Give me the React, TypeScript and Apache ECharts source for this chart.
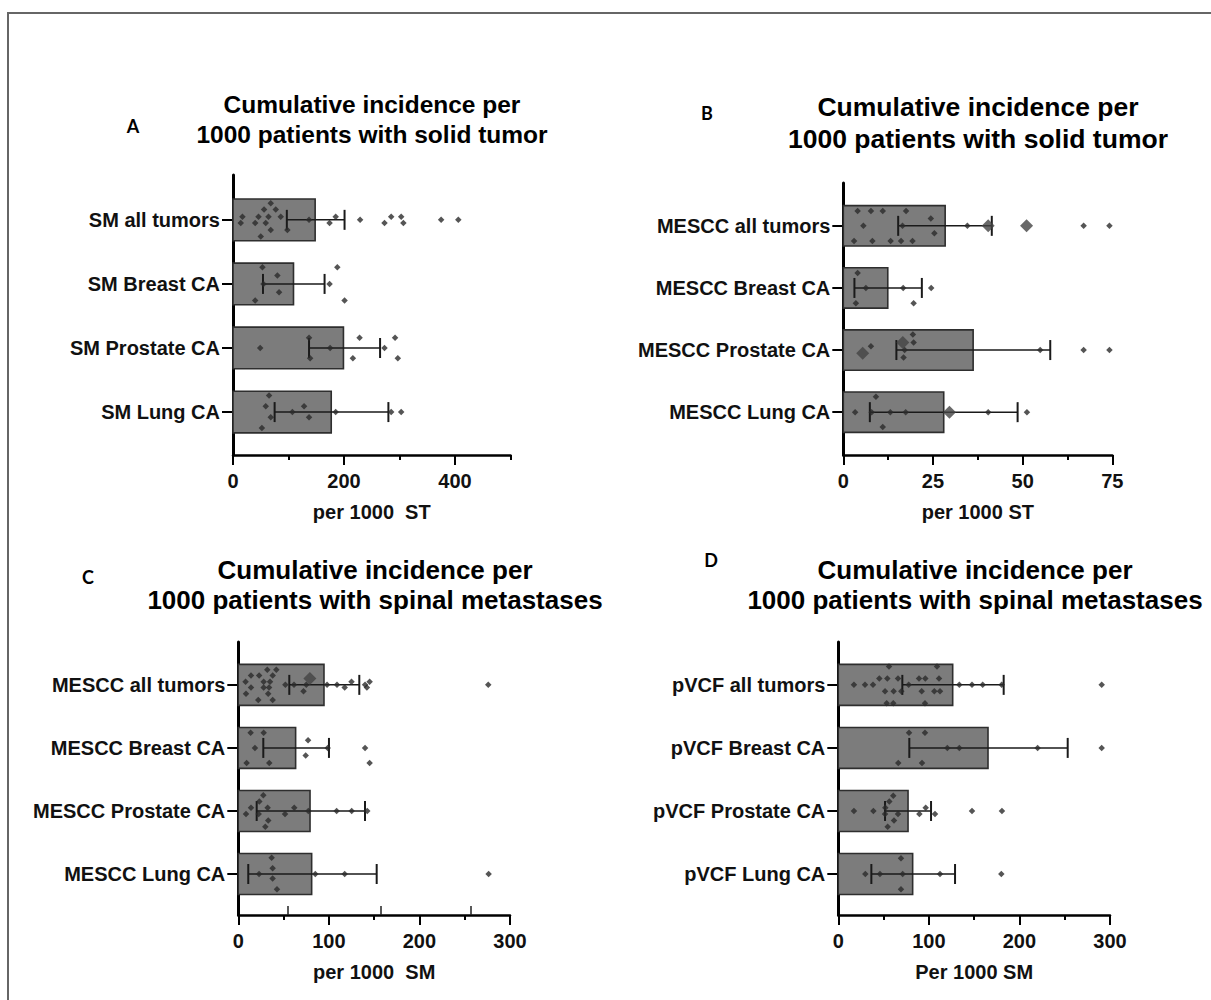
import React, { useEffect, useRef } from 'react';
import * as echarts from 'echarts';

const FONT = '"Liberation Sans", Arial, Helvetica, sans-serif';
type Pt = [number, number]; // [value, vertical jitter in row units]

// ---------- Panel A ----------
const catsA = ['SM all tumors', 'SM Breast CA', 'SM Prostate CA', 'SM Lung CA'];
const meanA = [148, 109, 199, 177];
const lowA = [97, 54, 137, 75];
const highA = [201, 165, 265, 280];
const dotsA0: Pt[] = [[17, -0.05], [14, 0.05], [50, 0.26], [46, -0.05], [40, 0.05], [56, -0.16], [68, -0.26], [64, -0.05], [59, 0.05], [77, -0.16], [68, 0.16], [86, -0.05], [98, 0.16], [137, 0], [185, -0.05], [174, 0.05], [229, 0], [273, 0.05], [285, -0.05], [303, -0.05], [307, 0.05], [375, 0], [406, 0]];
const dotsA1: Pt[] = [[53, -0.26], [80, -0.13], [55, 0], [83, 0.13], [40, 0.26], [174, 0], [188, -0.26], [201, 0.26]];
const dotsA2: Pt[] = [[49, 0], [137, -0.16], [139, 0.16], [175, 0], [228, -0.16], [216, 0.16], [273, 0], [292, -0.16], [297, 0.16]];
const dotsA3: Pt[] = [[65, -0.26], [59, -0.09], [68, 0.08], [52, 0.25], [107, 0], [128, -0.09], [137, 0.08], [185, 0], [285, 0], [303, 0]];
const ticksA = [0, 200, 400];
const minorA = [100, 300, 500];

// ---------- Panel B ----------
const catsB = ['MESCC all tumors', 'MESCC Breast CA', 'MESCC Prostate CA', 'MESCC Lung CA'];
const meanB = [28.4, 12.4, 36.2, 28.0];
const lowB = [15.3, 3.1, 14.8, 7.4];
const highB = [41.4, 21.9, 57.7, 48.6];
const dotsB0: Pt[] = [[4, -0.24], [7.7, -0.24], [11, -0.24], [17.5, -0.24], [5.6, 0], [3, 0.245], [8.1, 0.245], [13.2, 0.245], [16.1, 0.245], [19.3, 0.245], [24.4, -0.12], [25.4, 0.12], [16.5, 0], [34.6, 0], [67, 0], [74.2, 0]];
const bigB0: Pt[] = [[40.4, 0], [51.1, 0]];
const dotsB1: Pt[] = [[4, -0.24], [6.3, 0], [16.7, 0], [24.5, 0], [3.5, 0.245], [19.6, 0.245]];
const dotsB2: Pt[] = [[7.7, -0.06], [19.4, -0.25], [19.6, -0.12], [17.1, 0], [16.8, 0.12], [54.9, 0], [67, 0], [74.2, 0]];
const bigB2: Pt[] = [[5.4, 0.05], [16.6, -0.12]];
const dotsB3: Pt[] = [[3.3, 0], [9.1, -0.25], [7.9, 0], [13.1, 0], [17.4, 0], [11, 0.24], [40.4, 0], [51.2, 0]];
const bigB3: Pt[] = [[29.6, 0]];
const ticksB = [0, 25, 50, 75];
const minorB = [12.5, 37.5, 62.5];

// ---------- Panel C ----------
const catsC = ['MESCC all tumors', 'MESCC Breast CA', 'MESCC Prostate CA', 'MESCC Lung CA'];
const meanC = [94.6, 63.3, 79.2, 81.0];
const lowC = [56.3, 27.6, 20.3, 11.0];
const highC = [133.6, 100.1, 139.9, 152.8];
const dotsC0: Pt[] = [[32, -0.24], [42, -0.24], [14, -0.15], [23, -0.15], [38, -0.15], [8, -0.05], [28, -0.05], [35, -0.05], [14, 0.04], [28, 0.04], [34, 0.04], [8.5, 0.14], [33, 0.14], [22, 0.24], [38, 0.24], [52, 0], [61.5, 0], [75, 0], [72, 0.1], [98, 0], [109, 0], [117.5, 0.04], [125, -0.05], [140, 0], [142, 0.04], [145, -0.05], [276, 0]];
const bigC0: Pt[] = [[79, -0.1]];
const dotsC1: Pt[] = [[13.6, -0.24], [28, -0.24], [18.4, 0], [9.2, 0.24], [34.2, 0.24], [77, -0.12], [74.4, 0.12], [98.7, 0], [140, 0], [145, 0.24]];
const dotsC2: Pt[] = [[27.6, -0.25], [23.2, -0.15], [14, -0.05], [8.5, 0.05], [32.4, -0.05], [22.5, 0.05], [33.1, 0.15], [29.8, 0.25], [51.6, 0.05], [61.8, -0.05], [77.3, 0], [108.6, 0], [125.2, 0], [142.4, 0]];
const dotsC3: Pt[] = [[36.8, -0.26], [37.9, -0.09], [37.9, 0.07], [42.7, 0.24], [22.9, 0], [85, 0], [117.5, 0], [276.4, 0]];
const ticksC = [0, 100, 200, 300];
const minorC = [50, 150, 250];
const upTicksC = [55, 157, 257];

// ---------- Panel D ----------
const catsD = ['pVCF all tumors', 'pVCF Breast CA', 'pVCF Prostate CA', 'pVCF Lung CA'];
const meanD = [126.3, 165.3, 77.0, 82.1];
const lowD = [70.7, 78.4, 51.6, 36.5];
const highD = [182.6, 253.3, 102.4, 128.9];
const dotsD0: Pt[] = [[56, -0.29], [109, -0.29], [45.3, -0.1], [54.1, -0.1], [65.9, -0.1], [89.1, -0.1], [96.1, -0.1], [111.2, -0.1], [17.3, 0], [29.5, 0], [38.3, 0], [77.7, 0], [51.6, 0.1], [61.1, 0.1], [69.6, 0.1], [92.1, 0.1], [106, 0.1], [112.3, 0.1], [53.4, 0.29], [60.7, 0.29], [95.7, 0.29], [133.6, 0], [147.6, 0], [159.4, 0], [180.4, 0], [290.8, 0]];
const dotsD1: Pt[] = [[78.1, -0.24], [95.7, -0.24], [120.4, 0], [133.6, 0], [66.2, 0.24], [92.4, 0.24], [220.1, 0], [290.8, 0]];
const dotsD2: Pt[] = [[17.3, 0], [38.7, 0], [60.7, -0.24], [56.3, -0.15], [51.9, -0.05], [51.6, 0.05], [65.9, 0.05], [61.5, 0.15], [54.5, 0.25], [96.5, -0.05], [89.5, 0.05], [106.8, 0.05], [147.6, 0], [180.7, 0]];
const dotsD3: Pt[] = [[29.8, 0], [46, 0], [71.1, 0], [69.2, -0.25], [69.2, 0.24], [112.3, 0], [180, 0]];
const ticksD = [0, 100, 200, 300];
const minorD = [50, 150, 250];

const BAR_H = 0.65;
const CAP = 10;

interface PanelDef {
  cats: string[]; mean: number[]; low: number[]; high: number[];
  dots: Pt[][]; big: Pt[][]; max: number; ticks: number[]; minor: number[]; up?: number[];
  name: string; grid: { left: number; top: number; width: number; height: number };
  ymin: number; ymax: number;
}

const panels: PanelDef[] = [
  { cats: catsA, mean: meanA, low: lowA, high: highA, dots: [dotsA0, dotsA1, dotsA2, dotsA3], big: [[], [], [], []], max: 500, ticks: ticksA, minor: minorA, name: 'per 1000  ST', grid: { left: 233, top: 175, width: 277.5, height: 280 }, ymin: -0.7, ymax: 3.67 },
  { cats: catsB, mean: meanB, low: lowB, high: highB, dots: [dotsB0, dotsB1, dotsB2, dotsB3], big: [bigB0, [], bigB2, bigB3], max: 75, ticks: ticksB, minor: minorB, name: 'per 1000 ST', grid: { left: 843.3, top: 183, width: 269, height: 272 }, ymin: -0.69, ymax: 3.69 },
  { cats: catsC, mean: meanC, low: lowC, high: highC, dots: [dotsC0, dotsC1, dotsC2, dotsC3], big: [bigC0, [], [], []], max: 300, ticks: ticksC, minor: minorC, up: upTicksC, name: 'per 1000  SM', grid: { left: 238.3, top: 642, width: 271.7, height: 273 }, ymin: -0.68, ymax: 3.65 },
  { cats: catsD, mean: meanD, low: lowD, high: highD, dots: [dotsD0, dotsD1, dotsD2, dotsD3], big: [[], [], [], []], max: 300, ticks: ticksD, minor: minorD, name: 'Per 1000 SM', grid: { left: 838.3, top: 642, width: 271.7, height: 273 }, ymin: -0.68, ymax: 3.65 },
];

function buildOption() {
  const grid: any[] = [];
  const xAxis: any[] = [];
  const yAxis: any[] = [];
  const series: any[] = [];
  const labelStyle = { fontSize: 20, fontWeight: 'bold', color: '#111', fontFamily: FONT };

  panels.forEach((p, g) => {
    grid.push({ ...p.grid, containLabel: false, outerBoundsMode: 'none' });
    const xMain = xAxis.length;
    xAxis.push({
      type: 'value', gridIndex: g, min: 0, max: p.max, position: 'bottom',
      axisLine: { show: true, onZero: false, lineStyle: { color: '#000', width: 2.5 } },
      axisTick: { show: true, customValues: p.ticks, length: 10, lineStyle: { color: '#000', width: 2 } },
      axisLabel: { show: true, customValues: p.ticks, margin: 16, ...labelStyle, formatter: (v: number) => (p.ticks.includes(v) ? String(v) : '') },
      splitLine: { show: false },
      name: p.name, nameLocation: 'middle', nameGap: 47, nameTextStyle: { ...labelStyle, fontSize: 20 },
    });
    xAxis.push({
      type: 'value', gridIndex: g, min: 0, max: p.max, position: 'bottom',
      axisLine: { show: false, onZero: false },
      axisTick: { show: true, customValues: p.minor, length: 5, lineStyle: { color: '#000', width: 2 } },
      axisLabel: { show: false }, splitLine: { show: false },
    });
    if (p.up) {
      xAxis.push({
        type: 'value', gridIndex: g, min: 0, max: p.max, position: 'bottom',
        axisLine: { show: false, onZero: false },
        axisTick: { show: true, inside: true, customValues: p.up, length: 9, lineStyle: { color: '#222', width: 1.5 } },
        axisLabel: { show: false }, splitLine: { show: false },
      });
    }
    const yi = yAxis.length;
    yAxis.push({
      type: 'value', gridIndex: g, inverse: true, min: p.ymin, max: p.ymax,
      axisLine: { show: true, onZero: false, lineStyle: { color: '#000', width: 3 } },
      axisTick: { show: true, customValues: [0, 1, 2, 3], length: 11, lineStyle: { color: '#000', width: 2 } },
      axisLabel: {
        show: true, customValues: [0, 1, 2, 3], margin: 13, ...labelStyle,
        formatter: (v: number) => (Number.isInteger(v) && p.cats[v] ? p.cats[v] : ''),
      },
      splitLine: { show: false },
    });

    // bars
    series.push({
      type: 'custom', xAxisIndex: xMain, yAxisIndex: yi, clip: false, z: 2,
      encode: { x: 0, y: 1 },
      data: p.mean.map((m, i) => [m, i]),
      renderItem: (_params: any, api: any) => {
        const v = api.value(0) as number;
        const r = api.value(1) as number;
        const a = api.coord([0, r]);
        const b = api.coord([v, r]);
        const h = Math.abs(api.size([0, BAR_H])[1]);
        return {
          type: 'rect',
          shape: { x: a[0], y: a[1] - h / 2, width: b[0] - a[0], height: h },
          style: { fill: '#7c7c7c', stroke: '#2e2e2e', lineWidth: 1.6 },
        };
      },
    });
    // error bars
    series.push({
      type: 'custom', xAxisIndex: xMain, yAxisIndex: yi, clip: false, z: 4,
      encode: { x: [0, 1], y: 2 },
      data: p.low.map((l, i) => [l, p.high[i], i]),
      renderItem: (_params: any, api: any) => {
        const l = api.value(0) as number;
        const hgh = api.value(1) as number;
        const r = api.value(2) as number;
        const a = api.coord([l, r]);
        const b = api.coord([hgh, r]);
        const st = { stroke: '#1a1a1a', lineWidth: 1.5 };
        return {
          type: 'group',
          children: [
            { type: 'line', shape: { x1: a[0], y1: a[1], x2: b[0], y2: b[1] }, style: st },
            { type: 'line', shape: { x1: a[0], y1: a[1] - CAP, x2: a[0], y2: a[1] + CAP }, style: { ...st, lineWidth: 2 } },
            { type: 'line', shape: { x1: b[0], y1: b[1] - CAP, x2: b[0], y2: b[1] + CAP }, style: { ...st, lineWidth: 2 } },
          ],
        };
      },
    });
    // dots
    const small: number[][] = [];
    const big: number[][] = [];
    p.dots.forEach((row, r) => row.forEach(([v, dy]) => small.push([v, r + dy])));
    p.big.forEach((row, r) => row.forEach(([v, dy]) => big.push([v, r + dy])));
    series.push({
      type: 'scatter', xAxisIndex: xMain, yAxisIndex: yi, z: 5, clip: false,
      symbol: 'diamond', symbolSize: 6.5, itemStyle: { color: '#2b2b2b' }, data: small,
    });
    if (big.length) {
      series.push({
        type: 'scatter', xAxisIndex: xMain, yAxisIndex: yi, z: 5, clip: false,
        symbol: 'diamond', symbolSize: 13, itemStyle: { color: '#444' }, data: big,
      });
    }
  });

  const titleStyle = (text: string, x: number, y: number, size: number) => ({
    type: 'text', x, y,
    style: { text, fill: '#000', fontSize: size, fontWeight: 'bold', fontFamily: FONT, align: 'center', verticalAlign: 'middle' },
  });
  const letter = (text: string, x: number, y: number) => ({
    type: 'text', x, y,
    style: { text, fill: '#000', fontSize: 18, fontWeight: 'bold', fontFamily: 'Lato, "Open Sans", sans-serif', align: 'center', verticalAlign: 'middle' },
  });

  const graphic = [
    { type: 'polyline', shape: { points: [[8, 1000], [8, 13], [1211, 13]] }, style: { stroke: '#666', lineWidth: 2, fill: 'none' } },
    letter('A', 133, 126),
    titleStyle('Cumulative incidence per', 372, 104, 24.5),
    titleStyle('1000 patients with solid tumor', 372, 134, 24.5),
    letter('B', 707, 113),
    titleStyle('Cumulative incidence per', 978, 107, 26.5),
    titleStyle('1000 patients with solid tumor', 978, 139, 26.5),
    letter('C', 88, 577),
    titleStyle('Cumulative incidence per', 375, 570, 26),
    titleStyle('1000 patients with spinal metastases', 375, 600, 26),
    letter('D', 711, 560),
    titleStyle('Cumulative incidence per', 975, 570, 26),
    titleStyle('1000 patients with spinal metastases', 975, 600, 26),
  ];

  return { animation: false, backgroundColor: '#fff', grid, xAxis, yAxis, series, graphic };
}

export default function App() {
  const ref = useRef<HTMLDivElement>(null);
  useEffect(() => {
    if (!ref.current) return;
    const chart = echarts.init(ref.current, undefined, { renderer: 'svg' });
    chart.setOption(buildOption() as any);
    return () => chart.dispose();
  }, []);
  return <div ref={ref} style={{ position: 'absolute', left: 0, top: 0, width: 1211, height: 1000 }} />;
}
